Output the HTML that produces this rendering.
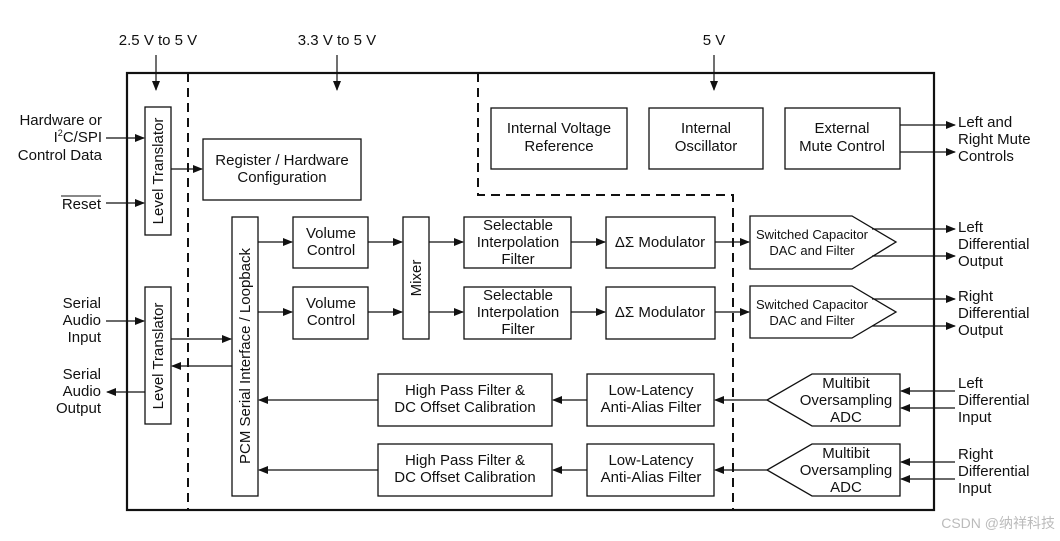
<!DOCTYPE html>
<html><head><meta charset="utf-8"><style>
html,body{margin:0;padding:0;background:#fff;width:1060px;height:541px;overflow:hidden}
svg{display:block}
text{font-family:"Liberation Sans",Arial,sans-serif;font-size:15px;fill:#111}
.s{font-size:13px}
</style></head><body>
<svg width="1060" height="541" viewBox="0 0 1060 541" xmlns="http://www.w3.org/2000/svg">
<defs><marker id="a" markerWidth="10" markerHeight="8" refX="9" refY="4" orient="auto" markerUnits="userSpaceOnUse"><path d="M0,0 L10,4 L0,8 z" fill="#111"/></marker></defs>
<g stroke="#111" fill="none" stroke-width="1.3">
<rect x="127" y="73" width="807" height="437" stroke-width="2.2"/>
<g stroke-dasharray="9,6" stroke-width="2"><path d="M188,73 V510"/><path d="M478,73 V195 H733 V510"/></g>
<rect x="145" y="107" width="26" height="128"/>
<rect x="145" y="287" width="26" height="137"/>
<rect x="203" y="139" width="158" height="61"/>
<rect x="232" y="217" width="26" height="279"/>
<rect x="293" y="217" width="75" height="51"/>
<rect x="293" y="287" width="75" height="52"/>
<rect x="403" y="217" width="26" height="122"/>
<rect x="464" y="217" width="107" height="51"/>
<rect x="464" y="287" width="107" height="52"/>
<rect x="606" y="217" width="109" height="51"/>
<rect x="606" y="287" width="109" height="52"/>
<rect x="491" y="108" width="136" height="61"/>
<rect x="649" y="108" width="114" height="61"/>
<rect x="785" y="108" width="115" height="61"/>
<path d="M750,216 H852 L896,242 L852,269 H750 Z"/>
<path d="M750,286 H852 L896,312 L852,338 H750 Z"/>
<rect x="378" y="374" width="174" height="52"/>
<rect x="378" y="444" width="174" height="52"/>
<rect x="587" y="374" width="127" height="52"/>
<rect x="587" y="444" width="127" height="52"/>
<path d="M900,374 H812 L767,400 L812,426 H900 Z"/>
<path d="M900,444 H812 L767,470 L812,496 H900 Z"/>
</g>
<g stroke="#111" stroke-width="1.2" marker-end="url(#a)">
<path d="M156,55 V90"/><path d="M337,55 V90"/><path d="M714,55 V90"/>
<path d="M106,138 H144"/><path d="M106,203 H144"/>
<path d="M171,169 H202"/>
<path d="M106,321 H144"/><path d="M171,339 H231"/><path d="M232,366 H172"/><path d="M145,392 H107"/>
<path d="M258,242 H292"/><path d="M258,312 H292"/>
<path d="M368,242 H402"/><path d="M368,312 H402"/>
<path d="M429,242 H463"/><path d="M429,312 H463"/>
<path d="M571,242 H605"/><path d="M571,312 H605"/>
<path d="M715,242 H749"/><path d="M715,312 H749"/>
<path d="M900,125 H955"/><path d="M900,152 H955"/>
<path d="M872,229 H955"/><path d="M872,256 H955"/>
<path d="M872,299 H955"/><path d="M872,326 H955"/>
<path d="M955,391 H901"/><path d="M955,408 H901"/>
<path d="M955,462 H901"/><path d="M955,479 H901"/>
<path d="M767,400 H715"/><path d="M767,470 H715"/>
<path d="M587,400 H553"/><path d="M587,470 H553"/>
<path d="M378,400 H259"/><path d="M378,470 H259"/>
</g>
<text x="158" y="45" text-anchor="middle">2.5 V to 5 V</text>
<text x="337" y="45" text-anchor="middle">3.3 V to 5 V</text>
<text x="714" y="45" text-anchor="middle">5 V</text>
<g text-anchor="end">
<text x="102" y="125">Hardware or</text>
<text x="102" y="142">I<tspan font-size="9" dy="-6">2</tspan><tspan dy="6">C/SPI</tspan></text>
<text x="102" y="160">Control Data</text>
<text x="101" y="209">Reset</text>
<text x="101" y="308">Serial</text><text x="101" y="325">Audio</text><text x="101" y="342">Input</text>
<text x="101" y="379">Serial</text><text x="101" y="396">Audio</text><text x="101" y="413">Output</text>
</g>
<path d="M61,196 H101" stroke="#111" stroke-width="1"/>
<g text-anchor="middle">
<text transform="translate(163,171) rotate(-90)">Level Translator</text>
<text transform="translate(163,356) rotate(-90)">Level Translator</text>
<text transform="translate(250,356) rotate(-90)">PCM Serial Interface / Loopback</text>
<text transform="translate(421,278) rotate(-90)">Mixer</text>
<text x="282" y="165">Register / Hardware</text><text x="282" y="182">Configuration</text>
<text x="331" y="238">Volume</text><text x="331" y="255">Control</text>
<text x="331" y="308">Volume</text><text x="331" y="325">Control</text>
<text x="518" y="230">Selectable</text><text x="518" y="247">Interpolation</text><text x="518" y="264">Filter</text>
<text x="518" y="300">Selectable</text><text x="518" y="317">Interpolation</text><text x="518" y="334">Filter</text>
<text x="660" y="247">ΔΣ Modulator</text><text x="660" y="317">ΔΣ Modulator</text>
<text x="559" y="133">Internal Voltage</text><text x="559" y="151">Reference</text>
<text x="706" y="133">Internal</text><text x="706" y="151">Oscillator</text>
<text x="842" y="133">External</text><text x="842" y="151">Mute Control</text>
<text class="s" x="812" y="239">Switched Capacitor</text><text class="s" x="812" y="255">DAC and Filter</text>
<text class="s" x="812" y="309">Switched Capacitor</text><text class="s" x="812" y="325">DAC and Filter</text>
<text x="465" y="395">High Pass Filter &amp;</text><text x="465" y="412">DC Offset Calibration</text>
<text x="465" y="465">High Pass Filter &amp;</text><text x="465" y="482">DC Offset Calibration</text>
<text x="651" y="395">Low-Latency</text><text x="651" y="412">Anti-Alias Filter</text>
<text x="651" y="465">Low-Latency</text><text x="651" y="482">Anti-Alias Filter</text>
<text x="846" y="388">Multibit</text><text x="846" y="405">Oversampling</text><text x="846" y="422">ADC</text>
<text x="846" y="458">Multibit</text><text x="846" y="475">Oversampling</text><text x="846" y="492">ADC</text>
</g>
<text x="958" y="127">Left and</text><text x="958" y="144">Right Mute</text><text x="958" y="161">Controls</text>
<text x="958" y="232">Left</text><text x="958" y="249">Differential</text><text x="958" y="266">Output</text>
<text x="958" y="301">Right</text><text x="958" y="318">Differential</text><text x="958" y="335">Output</text>
<text x="958" y="388">Left</text><text x="958" y="405">Differential</text><text x="958" y="422">Input</text>
<text x="958" y="459">Right</text><text x="958" y="476">Differential</text><text x="958" y="493">Input</text>
<text x="1055" y="528" text-anchor="end" style="font-family:'Liberation Sans','Noto Sans CJK SC',sans-serif;font-size:14px;fill:#bbb">CSDN @纳祥科技</text>
</svg>
</body></html>
